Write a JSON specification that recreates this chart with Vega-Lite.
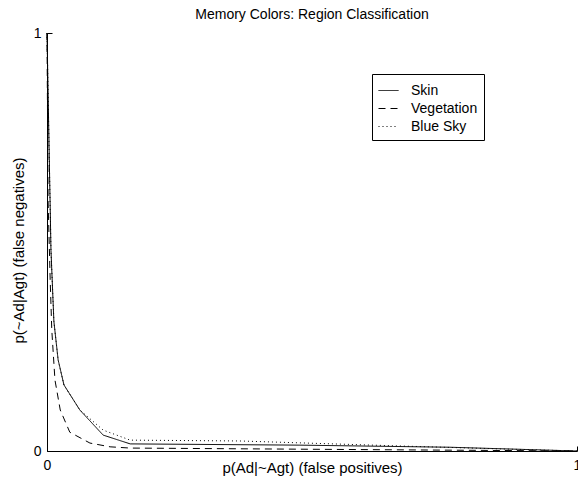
{
  "$schema": "https://vega.github.io/schema/vega-lite/v6.json",
  "width": 530,
  "height": 418,
  "autosize": {"type": "none"},
  "padding": {"left": 47, "top": 33, "right": 1, "bottom": 26},
  "background": "white",
  "config": {"view": {"stroke": null}, "font": "Liberation Sans"},
  "title": {"text": "Memory Colors: Region Classification", "fontSize": 14, "fontWeight": "normal", "anchor": "middle", "offset": 4, "color": "black", "font": "Liberation Sans"},
  "data": {
    "values": [
      {"series": "Skin", "o": 1, "x": 0, "y": 1},
      {"series": "Skin", "o": 2, "x": 0.004, "y": 0.72},
      {"series": "Skin", "o": 3, "x": 0.0075, "y": 0.48},
      {"series": "Skin", "o": 4, "x": 0.013, "y": 0.31},
      {"series": "Skin", "o": 5, "x": 0.021, "y": 0.218},
      {"series": "Skin", "o": 6, "x": 0.032, "y": 0.158},
      {"series": "Skin", "o": 7, "x": 0.062, "y": 0.098},
      {"series": "Skin", "o": 8, "x": 0.106, "y": 0.038},
      {"series": "Skin", "o": 9, "x": 0.157, "y": 0.017},
      {"series": "Skin", "o": 10, "x": 0.477, "y": 0.014},
      {"series": "Skin", "o": 11, "x": 0.76, "y": 0.009},
      {"series": "Skin", "o": 12, "x": 1, "y": 0},
      {"series": "Vegetation", "o": 1, "x": 0, "y": 1},
      {"series": "Vegetation", "o": 2, "x": 0.002, "y": 0.6},
      {"series": "Vegetation", "o": 3, "x": 0.006, "y": 0.41},
      {"series": "Vegetation", "o": 4, "x": 0.009, "y": 0.29},
      {"series": "Vegetation", "o": 5, "x": 0.015, "y": 0.17},
      {"series": "Vegetation", "o": 6, "x": 0.025, "y": 0.098},
      {"series": "Vegetation", "o": 7, "x": 0.043, "y": 0.045},
      {"series": "Vegetation", "o": 8, "x": 0.081, "y": 0.019},
      {"series": "Vegetation", "o": 9, "x": 0.119, "y": 0.01},
      {"series": "Vegetation", "o": 10, "x": 0.157, "y": 0.007},
      {"series": "Vegetation", "o": 11, "x": 1, "y": 0},
      {"series": "Blue Sky", "o": 1, "x": 0, "y": 1},
      {"series": "Blue Sky", "o": 2, "x": 0.004, "y": 0.72},
      {"series": "Blue Sky", "o": 3, "x": 0.0075, "y": 0.48},
      {"series": "Blue Sky", "o": 4, "x": 0.013, "y": 0.31},
      {"series": "Blue Sky", "o": 5, "x": 0.021, "y": 0.218},
      {"series": "Blue Sky", "o": 6, "x": 0.032, "y": 0.158},
      {"series": "Blue Sky", "o": 7, "x": 0.062, "y": 0.098},
      {"series": "Blue Sky", "o": 8, "x": 0.106, "y": 0.05},
      {"series": "Blue Sky", "o": 9, "x": 0.157, "y": 0.026},
      {"series": "Blue Sky", "o": 10, "x": 0.364, "y": 0.024},
      {"series": "Blue Sky", "o": 11, "x": 0.666, "y": 0.012},
      {"series": "Blue Sky", "o": 12, "x": 0.855, "y": 0.005},
      {"series": "Blue Sky", "o": 13, "x": 1, "y": 0}
    ]
  },
  "mark": {"type": "line", "strokeWidth": 1, "color": "black"},
  "encoding": {
    "x": {
      "field": "x", "type": "quantitative",
      "scale": {"domain": [0, 1], "nice": false, "zero": false},
      "axis": {
        "values": [0, 1], "format": "d", "title": "p(Ad|~Agt) (false positives)", "grid": false,
        "tickSize": -5, "labelPadding": 12, "labelFontSize": 14, "labelFlush": false,
        "titleFontSize": 15, "titleFontWeight": "normal", "titleY": 21, "titleBaseline": "alphabetic",
        "domainColor": "black", "tickColor": "black", "labelColor": "black", "titleColor": "black"
      }
    },
    "y": {
      "field": "y", "type": "quantitative",
      "scale": {"domain": [0, 1], "nice": false, "zero": false},
      "axis": {
        "values": [0, 1], "format": "d", "title": "p(~Ad|Agt) (false negatives)", "grid": false,
        "tickSize": -5, "labelPadding": 11, "labelFontSize": 14, "labelFlush": false,
        "titleFontSize": 15, "titleFontWeight": "normal", "titleX": -24, "titleY": 217,
        "titleBaseline": "alphabetic", "titleAlign": "center", "titleAngle": -90,
        "domainColor": "black", "tickColor": "black", "labelColor": "black", "titleColor": "black"
      }
    },
    "strokeDash": {
      "field": "series", "type": "nominal",
      "scale": {"domain": ["Skin", "Vegetation", "Blue Sky"], "range": [[1, 0], [7, 5], [1, 3]]},
      "legend": {
        "orient": "none", "legendX": 325, "legendY": 41, "title": null,
        "strokeColor": "black", "fillColor": "white", "padding": 6,
        "symbolType": "stroke", "symbolSize": 400, "symbolStrokeWidth": 1, "symbolStrokeColor": "black",
        "labelFontSize": 14, "labelColor": "black", "labelOffset": 12, "rowPadding": -4
      }
    },
    "order": {"field": "o", "type": "quantitative"}
  }
}
